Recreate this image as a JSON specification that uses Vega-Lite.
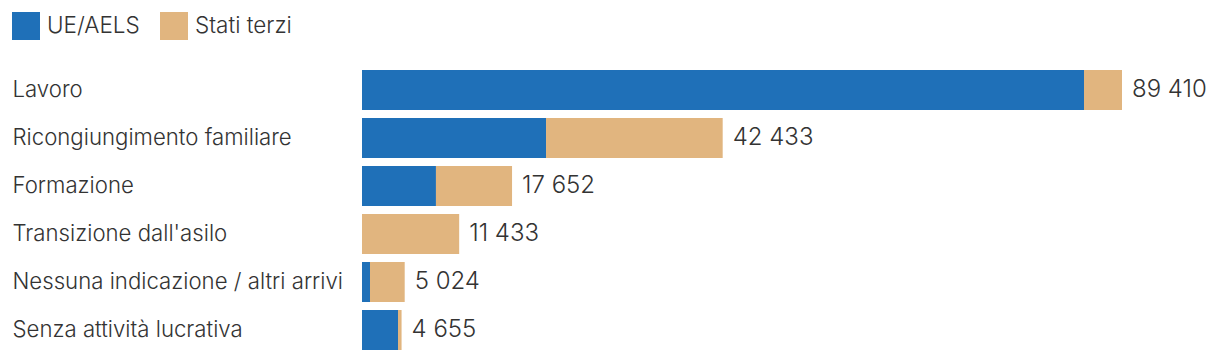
{
  "$schema": "https://vega.github.io/schema/vega-lite/v6.json",
  "autosize": {"type": "none"},
  "width": 760,
  "height": 288,
  "padding": {"left": 362, "top": 66, "right": 98, "bottom": 6},
  "background": "white",
  "config": {
    "view": {"stroke": null},
    "font": "Inter",
    "locale": {"number": {"decimal": ",", "thousands": " ", "grouping": [3], "currency": ["", ""]}}
  },
  "data": {
    "values": [
      {"cat": "Lavoro", "grp": "UE/AELS", "ord": 1, "val": 84940},
      {"cat": "Lavoro", "grp": "Stati terzi", "ord": 2, "val": 4470},
      {"cat": "Ricongiungimento familiare", "grp": "UE/AELS", "ord": 1, "val": 21650},
      {"cat": "Ricongiungimento familiare", "grp": "Stati terzi", "ord": 2, "val": 20783},
      {"cat": "Formazione", "grp": "UE/AELS", "ord": 1, "val": 8700},
      {"cat": "Formazione", "grp": "Stati terzi", "ord": 2, "val": 8952},
      {"cat": "Transizione dall'asilo", "grp": "UE/AELS", "ord": 1, "val": 0},
      {"cat": "Transizione dall'asilo", "grp": "Stati terzi", "ord": 2, "val": 11433},
      {"cat": "Nessuna indicazione / altri arrivi", "grp": "UE/AELS", "ord": 1, "val": 940},
      {"cat": "Nessuna indicazione / altri arrivi", "grp": "Stati terzi", "ord": 2, "val": 4084},
      {"cat": "Senza attività lucrativa", "grp": "UE/AELS", "ord": 1, "val": 4235},
      {"cat": "Senza attività lucrativa", "grp": "Stati terzi", "ord": 2, "val": 420}
    ]
  },
  "encoding": {
    "y": {
      "field": "cat", "type": "nominal", "sort": null,
      "scale": {"paddingInner": 0.1667, "paddingOuter": 0.0833},
      "axis": {"title": null, "domain": false, "ticks": false, "labelAlign": "left", "labelPadding": 350, "labelLimit": 400, "labelFontSize": 22.2, "labelFontWeight": 300, "labelColor": "#333333", "labelFont": "Inter"}
    }
  },
  "layer": [
    {
      "mark": {"type": "bar"},
      "encoding": {
        "x": {"field": "val", "type": "quantitative", "stack": "zero", "scale": {"domain": [0, 89410], "nice": false, "zero": true}, "axis": null},
        "color": {
          "field": "grp", "type": "nominal",
          "scale": {"domain": ["UE/AELS", "Stati terzi"], "range": ["#1f70b8", "#e1b57f"]},
          "legend": {"title": null, "orient": "none", "legendX": -350, "legendY": -54, "direction": "horizontal", "symbolType": "square", "symbolSize": 784, "symbolStrokeWidth": 0, "symbolOpacity": 1, "labelFontSize": 22.5, "labelFontWeight": 300, "labelColor": "#333333", "labelFont": "Inter", "labelOffset": 7, "columnPadding": 20}
        },
        "order": {"field": "ord"}
      }
    },
    {
      "transform": [{"aggregate": [{"op": "sum", "field": "val", "as": "total"}], "groupby": ["cat"]}],
      "mark": {"type": "text", "align": "left", "baseline": "middle", "dx": 10, "fontSize": 24, "fontWeight": 300, "color": "#333333", "font": "Inter"},
      "encoding": {
        "x": {"field": "total", "type": "quantitative"},
        "text": {"field": "total", "type": "quantitative", "format": ",d"}
      }
    }
  ]
}
